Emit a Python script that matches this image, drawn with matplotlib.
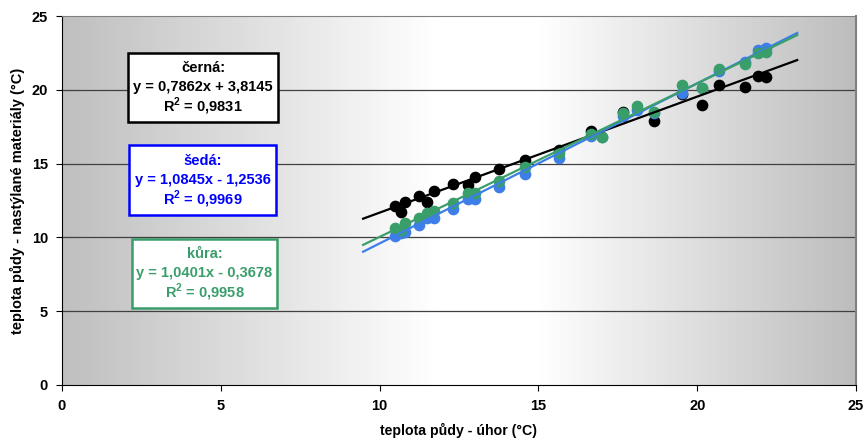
import matplotlib
matplotlib.use("Agg")
import matplotlib.pyplot as plt
import numpy as np
from matplotlib.colors import LinearSegmentedColormap
from matplotlib.patches import Rectangle

plt.rcParams['font.family'] = ['Liberation Sans', 'DejaVu Sans']
plt.rcParams['mathtext.fontset'] = 'custom'
plt.rcParams['mathtext.rm'] = 'Liberation Sans:bold'
plt.rcParams['mathtext.bf'] = 'Liberation Sans:bold'

# teplota půdy - úhor (x) a nastýlané materiály (y)
x_cerna = [10.49, 10.66, 10.81, 11.24, 11.50, 11.71, 12.31, 12.79, 13.00, 13.76, 14.58,
           15.64, 16.65, 17.65, 18.65, 19.53, 20.15, 20.69, 21.50, 21.91, 22.16]
y_cerna = [12.15, 11.70, 12.42, 12.83, 12.40, 13.14, 13.60, 13.55, 14.11, 14.63, 15.24,
           15.92, 17.23, 18.52, 17.91, 19.71, 18.99, 20.33, 20.21, 20.96, 20.89]

x_seda = [10.49, 10.66, 10.81, 11.24, 11.50, 11.71, 12.31, 12.79, 13.00, 13.76, 14.58, 15.64,
          16.65, 17.01, 17.65, 18.09, 18.65, 19.53, 20.15, 20.69, 21.50, 21.91, 22.16]
y_seda = [10.10, 10.30, 10.39, 10.84, 11.30, 11.34, 11.90, 12.60, 12.58, 13.44, 14.30, 15.36,
          16.90, 16.82, 18.20, 18.63, 18.40, 19.80, 20.10, 21.30, 21.90, 22.70, 22.80]

x_kura = [10.49, 10.66, 10.81, 11.24, 11.50, 11.71, 12.31, 12.79, 13.00, 13.76, 14.58, 15.64,
          16.65, 17.01, 17.65, 18.09, 18.65, 19.53, 20.15, 20.69, 21.50, 21.91, 22.16]
y_kura = [10.66, 10.50, 10.95, 11.29, 11.63, 11.79, 12.35, 12.99, 12.99, 13.82, 14.79, 15.69,
          17.00, 16.82, 18.40, 18.90, 18.52, 20.33, 20.10, 21.39, 21.73, 22.51, 22.58]

# spojnice trendu (z rovnic v grafu)
nazvy = ['černá', 'šedá', 'kůra']
smernice = [0.7862, 1.0845, 1.0401]
posuny = [3.8145, -1.2536, -0.3678]
r2 = ['0,9831', '0,9969', '0,9958']
rovnice = ['y = 0,7862x + 3,8145', 'y = 1,0845x - 1,2536', 'y = 1,0401x - 0,3678']
trend_od, trend_do = 9.48, 23.15

barvy_bodu = ['black', '#3d7ee8', '#3a9e6b']
barvy_textu = ['black', '#0000ff', '#3a9e6b']

W, H = 866, 442
fig = plt.figure(figsize=(W / 100, H / 100), dpi=100)
ax = fig.add_axes([62 / W, 1 - 385 / H, 794 / W, 369 / H])

# gradient pozadí (šedá - bílá - šedá)
cm = LinearSegmentedColormap.from_list('bg', [(0.0, '#bfbfbf'), (0.47, '#ffffff'),
                                              (0.60, '#ffffff'), (1.0, '#bdbdbd')])
grad = np.linspace(0, 1, 256).reshape(1, -1)
ax.imshow(grad, cmap=cm, aspect='auto', extent=[0, 1, 0, 1],
          transform=ax.transAxes, zorder=0)

for yy in [5, 10, 15, 20]:
    ax.axhline(yy, color='#404040', lw=0.9, zorder=1)

data = [(x_cerna, y_cerna), (x_seda, y_seda), (x_kura, y_kura)]
xt = np.array([trend_od, trend_do])
for (xs, ys), b in zip(data, barvy_bodu):
    ax.plot(xs, ys, 'o', color=b, ms=7.4, mec=b, zorder=3)
for k, b, c in zip(smernice, barvy_bodu, posuny):
    ax.plot(xt, k * xt + c, color=b, lw=1.6, zorder=4)

ax.set_xlim(0, 25)
ax.set_ylim(0, 25)
ax.set_xticks([0, 5, 10, 15, 20, 25])
ax.set_yticks([0, 5, 10, 15, 20, 25])
ax.tick_params(direction='out', length=4, width=0.8, labelsize=10.5, pad=6)
for lab in ax.get_xticklabels() + ax.get_yticklabels():
    lab.set_fontweight('bold')
ax.spines['left'].set_color('black')
ax.spines['bottom'].set_color('black')
ax.spines['top'].set_color('#808080')
ax.spines['right'].set_color('#808080')
ax.spines['right'].set_linewidth(1.5)

ax.set_xlabel('teplota půdy - úhor (°C)', fontsize=10.2, fontweight='bold', labelpad=7)
ax.set_ylabel('teplota půdy - nastýlané materiály (°C)', fontsize=10.5,
              fontweight='bold', labelpad=5)

# rámečky s rovnicemi (levý, horní, pravý, dolní okraj v pixelech)
ramecky = [(128, 53, 278, 122), (129, 145, 276, 215), (132, 239, 277, 308)]
for i in range(3):
    x0, y0, x1, y1 = ramecky[i]
    fig.patches.append(Rectangle((x0 / W, 1 - y1 / H), (x1 - x0) / W, (y1 - y0) / H,
                                 transform=fig.transFigure, fc='white',
                                 ec=barvy_textu[i], lw=1.8, zorder=5))
    cx = (x0 + x1) / 2 / W
    cy = (y0 + y1) / 2
    radky = [f'{nazvy[i]}:', rovnice[i], f'R$^{{2}}$ = {r2[i]}']
    for j, r in enumerate(radky):
        fig.text(cx, 1 - (cy + (j - 1) * 19) / H, r, ha='center', va='center',
                 fontsize=10.5, fontweight='bold', color=barvy_textu[i], zorder=6)

fig.savefig('out.png', dpi=100)
